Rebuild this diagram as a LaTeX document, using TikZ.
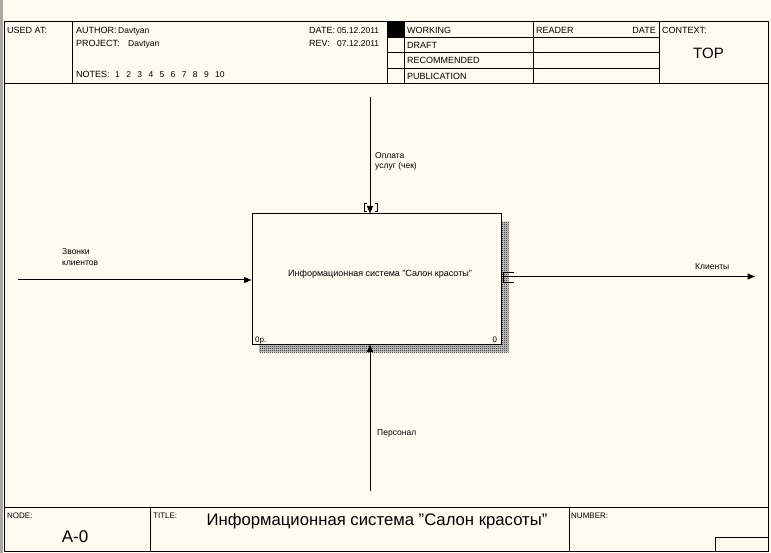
\documentclass[tikz,border=0pt]{standalone}
\usepackage{fontspec}
\setmainfont{Liberation Sans}
\usetikzlibrary{arrows.meta,patterns}
\definecolor{bg}{HTML}{FFFBF0}
\definecolor{strip}{HTML}{A8A8A4}
\pgfdeclarepatternformonly{dither}{\pgfqpoint{0pt}{0pt}}{\pgfqpoint{2pt}{2pt}}{\pgfqpoint{2pt}{2pt}}{%
  \pgfpathrectangle{\pgfqpoint{0pt}{0pt}}{\pgfqpoint{1pt}{1pt}}%
  \pgfpathrectangle{\pgfqpoint{1pt}{1pt}}{\pgfqpoint{1pt}{1pt}}%
  \pgfusepath{fill}}
\begin{document}
\begin{tikzpicture}[x=1pt,y=-1pt,
  frame/.style={line width=1pt},
  hdr/.style={font=\fontsize{9}{10}\selectfont, inner sep=0pt, anchor=base west},
  hdrR/.style={font=\fontsize{8.5}{10}\selectfont, inner sep=0pt, anchor=base west},
  small/.style={font=\fontsize{8}{9}\selectfont, inner sep=0pt, anchor=base west},
  big/.style={font=\fontsize{15}{17}\selectfont, inner sep=0pt, anchor=base},
  lbl/.style={font=\fontsize{8.5}{10.5}\selectfont, inner sep=0pt, anchor=base west},
  arr/.style={line width=1pt, -{Triangle[length=7.5pt,width=6pt]}},
  tun/.style={line width=0.9pt},
  funcbox/.style={draw, line width=1pt, fill=bg, minimum width=249pt, minimum height=130pt, inner sep=0pt}
]
\useasboundingbox (0,0) rectangle (771,553);
\fill[bg] (0,0) rectangle (771,553);
\fill[strip] (0,0) rectangle (3,553);

% frame
\draw[frame] (4,22) rectangle (768,551);
\draw[frame] (4,83.5) -- (768,83.5);
\draw[frame] (4,507.5) -- (768,507.5);
% header columns
\draw[frame] (72.5,22) -- (72.5,83.5);
\draw[frame] (387,22) -- (387,83.5);
\draw[frame] (404,22) -- (404,83.5);
\draw[frame] (533,22) -- (533,83.5);
\draw[frame] (659,22) -- (659,83.5);
\foreach \yy in {37.5,53,68.5} \draw[frame] (387,\yy) -- (659,\yy);
\fill[black] (387,22) rectangle (404,37.5);
% footer columns
\draw[frame] (150,507.5) -- (150,551);
\draw[frame] (569,507.5) -- (569,551);
\draw[frame] (715.5,551) -- (715.5,537.5) -- (768,537.5);

% header texts
\node[hdr] (usedat) at (7,33.5) {USED AT:};
\node[hdr] (author) at (76,33.5) {AUTHOR:};
\node[hdrR] (authorv) at (118,33.5) {Davtyan};
\node[hdr] (project) at (76,47) {PROJECT:};
\node[hdrR] (projectv) at (128,47) {Davtyan};
\node[hdr] (notes) at (76,77.5) {NOTES:};
\foreach \i in {1,...,10} {
  \node[hdrR] (note\i) at ({115+11.1*(\i-1)},77.5) {\i};
}
\node[hdr] (date) at (309,33.5) {DATE:};
\node[hdrR] (datev) at (337,33.5) {05.12.2011};
\node[hdr] (rev) at (309,47) {REV:};
\node[hdrR] (revv) at (337,47) {07.12.2011};
\node[hdr] (working) at (407,33.5) {WORKING};
\node[hdr] (draft) at (407,48.5) {DRAFT};
\node[hdr] (recom) at (407,64) {RECOMMENDED};
\node[hdr] (public) at (407,79.5) {PUBLICATION};
\node[hdr] (reader) at (536,33.5) {READER};
\node[hdr, anchor=base east] (rdate) at (656,33.5) {DATE};
\node[hdr] (context) at (662,33.5) {CONTEXT:};
\node[big] (top) at (708.5,58.5) {TOP};

% footer texts
\node[small] (nodelbl) at (7,518.5) {NODE:};
\node[big, font=\fontsize{17}{19}\selectfont] (nodeval) at (75,542) {A-0};
\node[small] (titlelbl) at (153,518.5) {TITLE:};
\node[big, font=\fontsize{16.7}{19}\selectfont] (titleval) at (377,525) {Информационная система \symbol{34}Салон красоты\symbol{34}};
\node[small] (numberlbl) at (571,518.5) {NUMBER:};

% activity box with shadow
\fill[gray!35] (259,222) rectangle (508.5,352);
\fill[pattern=dither, pattern color=black] (259,222) rectangle (508.5,352);
\node[funcbox] (box) at (376.5,279) {};
\node[lbl, anchor=base, font=\fontsize{9}{11}\selectfont] (boxlbl) at (380,276.7) {Информационная система "Салон красоты"};
\node[small] (boxop) at (255,342) {0р.};
\node[small] (boxnum) at (492.5,342) {0};

% arrows
\coordinate (ctrlTop) at (370,97);
\draw[arr] (ctrlTop) -- (ctrlTop |- box.north);
\draw[tun] (366.8,203) -- (364.8,203) -- (364.8,211) -- (366.8,211);
\draw[tun] (375,203) -- (377,203) -- (377,211) -- (375,211);
\node[lbl] (ctrl1) at (375,158.5) {Оплата};
\node[lbl] (ctrl2) at (375,169) {услуг (чек)};

\coordinate (inLeft) at (18,280);
\draw[arr] (inLeft) -- (inLeft -| box.west);
\node[lbl] (in1) at (62,255) {Звонки};
\node[lbl] (in2) at (62,266) {клиентов};

\coordinate (outRight) at (755,276.5);
\draw[arr] (outRight -| box.east) -- (outRight);
\draw[tun] (514,272) -- (503,272) -- (503,282) -- (514,282);
\node[lbl] (out1) at (695,270) {Клиенты};

\coordinate (mechBot) at (370,491);
\draw[arr] (mechBot) -- (mechBot |- box.south);
\node[lbl] (mech1) at (377,435) {Персонал};
\end{tikzpicture}
\end{document}
